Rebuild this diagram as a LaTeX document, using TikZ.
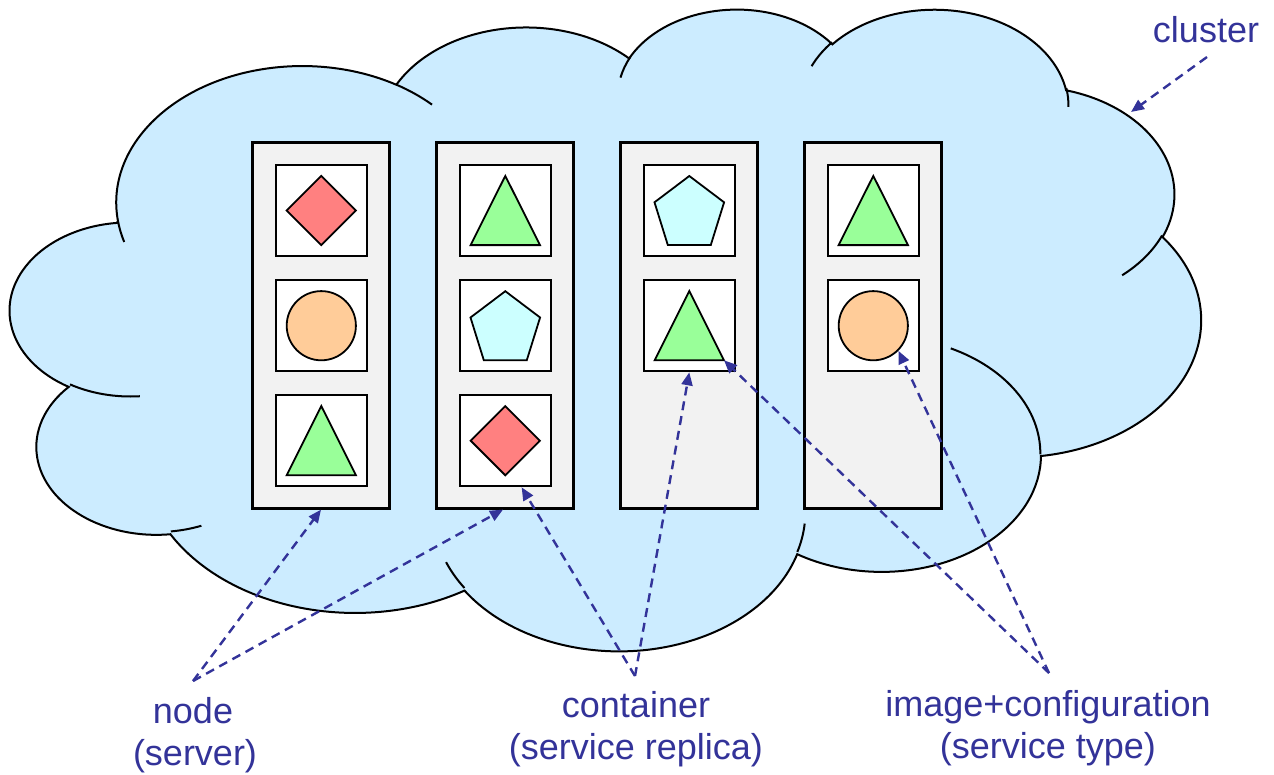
\documentclass[tikz,border=0pt]{standalone}
\usepackage{fontspec}
\setmainfont{Liberation Sans}
\usetikzlibrary{calc,arrows.meta}

\definecolor{cloudfill}{HTML}{CCECFF}
\definecolor{srvfill}{HTML}{F2F2F2}
\definecolor{linkblue}{HTML}{333399}
\definecolor{diafill}{HTML}{FF8080}
\definecolor{circfill}{HTML}{FFCC99}
\definecolor{trifill}{HTML}{99FF99}
\definecolor{pentfill}{HTML}{CCFFFF}

% Cloud lobes are elliptic arcs given by radii and a visual start angle and sweep;
% convert them to the parametric start angle and sweep used by TikZ arcs.
\newcommand\cloudang[5]{% #1 name, #2 x radius, #3 y radius, #4 start (deg), #5 sweep (deg)
  \pgfmathsetmacro\cloudta{atan2((#2)*sin(#4),(#3)*cos(#4))}%
  \pgfmathsetmacro\cloudtb{atan2((#2)*sin((#4)+(#5)),(#3)*cos((#4)+(#5)))}%
  \pgfmathsetmacro\cloudtd{mod(\cloudtb-\cloudta+720,360)}%
  \expandafter\global\expandafter\let\csname cs#1\endcsname\cloudta
  \expandafter\global\expandafter\let\csname cd#1\endcsname\cloudtd
}

% service shapes, centred on a container
\newcommand\diamondat[1]{\draw[shp,fill=diafill] ($(#1)+(0,-34.6)$) -- ($(#1)+(34.6,0)$) -- ($(#1)+(0,34.6)$) -- ($(#1)+(-34.6,0)$) -- cycle;}
\newcommand\triangleat[1]{\draw[shp,fill=trifill] ($(#1)+(0,-34.6)$) -- ($(#1)+(34.7,34.6)$) coordinate (#1-br) -- ($(#1)+(-34.7,34.6)$) -- cycle;}
\newcommand\pentagonat[1]{\draw[shp,fill=pentfill] ($(#1)+(0,-34.5)$) -- ($(#1)+(34.8,-8.2)$) -- ($(#1)+(21.5,34.5)$) -- ($(#1)+(-21.5,34.5)$) -- ($(#1)+(-34.8,-8.2)$) -- cycle;}
\newcommand\circleat[1]{\node[shp,circle,fill=circfill,minimum size=69.2pt,inner sep=0pt] (#1-k) at (#1) {};}

\begin{document}
\begin{tikzpicture}[x=1pt,y=-1pt,
  cloudshape/.style={fill=cloudfill, draw=black, line width=2pt},
  cloudline/.style={draw=black, line width=2pt},
  srv/.style={draw=black, fill=srvfill, line width=2.2pt, minimum width=137pt, minimum height=366pt, inner sep=0pt},
  cont/.style={draw=black, fill=white, line width=2.2pt, minimum width=91pt, minimum height=91pt, inner sep=0pt},
  shp/.style={draw=black, line width=1.8pt, line join=miter},
  link/.style={draw=linkblue, line width=2.4pt, dash pattern=on 9pt off 6pt, -{Triangle[length=13pt,width=11pt]}},
  lbl/.style={text=linkblue, font=\fontsize{36}{42}\selectfont, inner sep=0pt, anchor=base}]

\useasboundingbox (0,0) rectangle (1274,774);

% lobes of the outline
\cloudang{B}{67.53}{91.90}{-190.48748}{123.78053}
\cloudang{C}{53.33}{72.67}{-144.10238}{89.94523}
\cloudang{D}{43.65}{59.45}{-145.80792}{99.72302}
\cloudang{E}{48.57}{65.95}{-130.98607}{117.24173}
\cloudang{F}{53.33}{72.73}{-78.70888}{109.02692}
\cloudang{G}{67.75}{92.20}{-46.26725}{130.269}
\cloudang{H}{57.85}{78.67}{0.62502}{114.03333}
\cloudang{I}{67.52}{92.15}{22.4516}{115.17255}
\cloudang{J}{77.20}{105.43}{66.24263}{75.71102}
\cloudang{K}{43.60}{59.18}{-274.94208}{146.73557}
\cloudang{A}{43.45}{59.45}{-246.8285}{152.51885}
% inner tails
\cloudang{TA}{43.45}{59.45}{86.742}{26.4295}
\cloudang{TK}{43.60}{59.18}{73.61047}{11.44747}
\cloudang{TIa}{67.52}{92.15}{137.62415}{14.0811}
\cloudang{TIb}{67.52}{92.15}{6.45327}{15.99835}
\cloudang{TH}{57.85}{78.67}{-70.29235}{70.91737}
\cloudang{TF}{53.33}{72.73}{30.31803}{27.7515}
\cloudang{TEa}{48.57}{65.95}{-13.74433}{14.8589}
\cloudang{TEb}{48.57}{65.95}{-149.18145}{18.19537}
\cloudang{TD}{43.65}{59.45}{-163.49427}{17.68635}
\cloudang{TBa}{67.53}{91.90}{-66.70695}{12.31935}
\cloudang{TBb}{67.53}{91.90}{157.65435}{11.85817}

% the cluster cloud
\begin{scope}[shift={(10.5,7.5)}, x=2.755pt, y=-1.485pt]
  \path[cloudshape] (39.00,143.70)
    arc[start angle=\csB, delta angle=\cdB, x radius=67.53, y radius=91.90]
    arc[start angle=\csC, delta angle=\cdC, x radius=53.33, y radius=72.67]
    arc[start angle=\csD, delta angle=\cdD, x radius=43.65, y radius=59.45]
    arc[start angle=\csE, delta angle=\cdE, x radius=48.57, y radius=65.95]
    arc[start angle=\csF, delta angle=\cdF, x radius=53.33, y radius=72.73]
    arc[start angle=\csG, delta angle=\cdG, x radius=67.75, y radius=92.20]
    arc[start angle=\csH, delta angle=\cdH, x radius=57.85, y radius=78.67]
    arc[start angle=\csI, delta angle=\cdI, x radius=67.52, y radius=92.15]
    arc[start angle=\csJ, delta angle=\cdJ, x radius=77.20, y radius=105.43]
    arc[start angle=\csK, delta angle=\cdK, x radius=43.60, y radius=59.18]
    arc[start angle=\csA, delta angle=\cdA, x radius=43.45, y radius=59.45]
    -- cycle;
  \path[cloudline]
    (46.93,261.77) arc[start angle=\csTA, delta angle=\cdTA, x radius=43.45, y radius=59.45]
    (69.28,348.99) arc[start angle=\csTK, delta angle=\cdTK, x radius=43.60, y radius=59.18]
    (164.78,390.90) arc[start angle=\csTIa, delta angle=\cdTIa, x radius=67.52, y radius=92.15]
    (288.27,347.51) arc[start angle=\csTIb, delta angle=\cdTIb, x radius=67.52, y radius=92.15]
    (341.29,229.54) arc[start angle=\csTH, delta angle=\cdTH, x radius=57.85, y radius=78.67]
    (417.98,153.54) arc[start angle=\csTF, delta angle=\cdTF, x radius=53.33, y radius=72.73]
    (383.24,54.26) arc[start angle=\csTEa, delta angle=\cdTEa, x radius=48.57, y radius=65.95]
    (290.78,39.52) arc[start angle=\csTEb, delta angle=\cdTEb, x radius=48.57, y radius=65.95]
    (221.41,47.20) arc[start angle=\csTD, delta angle=\cdTD, x radius=43.65, y radius=59.45]
    (140.00,51.92) arc[start angle=\csTBa, delta angle=\cdTBa, x radius=67.53, y radius=91.90]
    (41.27,157.89) arc[start angle=\csTBb, delta angle=\cdTBb, x radius=67.53, y radius=91.90];
\end{scope}

% servers
\node[srv] (srv1) at (321,325.5) {};
\node[srv] (srv2) at (505,325.5) {};
\node[srv] (srv3) at (689,325.5) {};
\node[srv] (srv4) at (873,325.5) {};

% containers
\node[cont] (c11) at (321.3,210.5) {};
\node[cont] (c12) at (321.3,325.7) {};
\node[cont] (c13) at (321.3,440.7) {};
\node[cont] (c21) at (505.3,210.5) {};
\node[cont] (c22) at (505.3,325.7) {};
\node[cont] (c23) at (505.3,440.7) {};
\node[cont] (c31) at (689.3,210.5) {};
\node[cont] (c32) at (689.3,325.7) {};
\node[cont] (c41) at (873.3,210.5) {};
\node[cont] (c42) at (873.3,325.7) {};

% service types
\diamondat{c11}
\circleat{c12}
\triangleat{c13}
\triangleat{c21}
\pentagonat{c22}
\diamondat{c23}
\pentagonat{c31}
\triangleat{c32}
\triangleat{c41}
\circleat{c42}

% labels
\node[lbl] (lblCluster) at (1206,42) {cluster};
\node[lbl] (lblNode) at (193,723) {node};
\node[lbl] (lblServer) at (195,765) {(server)};
\node[lbl] (lblCont) at (636,717) {container};
\node[lbl] (lblReplica) at (636,759) {(service replica)};
\node[lbl] (lblImage) at (1048,716.5) {image+configuration};
\node[lbl] (lblType) at (1048,758.5) {(service type)};

% pointers
\coordinate (clusterTail) at (1207,57);
\coordinate (clusterTip) at (1131,112);
\coordinate (nodeApex) at (193,681);
\coordinate (contApex) at (635,676);
\coordinate (imgApex) at (1049,673);

\draw[link] (clusterTail) -- (clusterTip);
\draw[link] (nodeApex) -- (srv1.south);
\draw[link] (nodeApex) -- ($(srv2.south)+(-2,0)$);
\draw[link] (contApex) -- ($(c23.south)!0.35!(c23.south east)$);
\draw[link] (contApex) -- (c32.south);
\draw[link] (imgApex) -- (c32-br);
\draw[link] (imgApex) -- (c42-k.south east);
\end{tikzpicture}
\end{document}
